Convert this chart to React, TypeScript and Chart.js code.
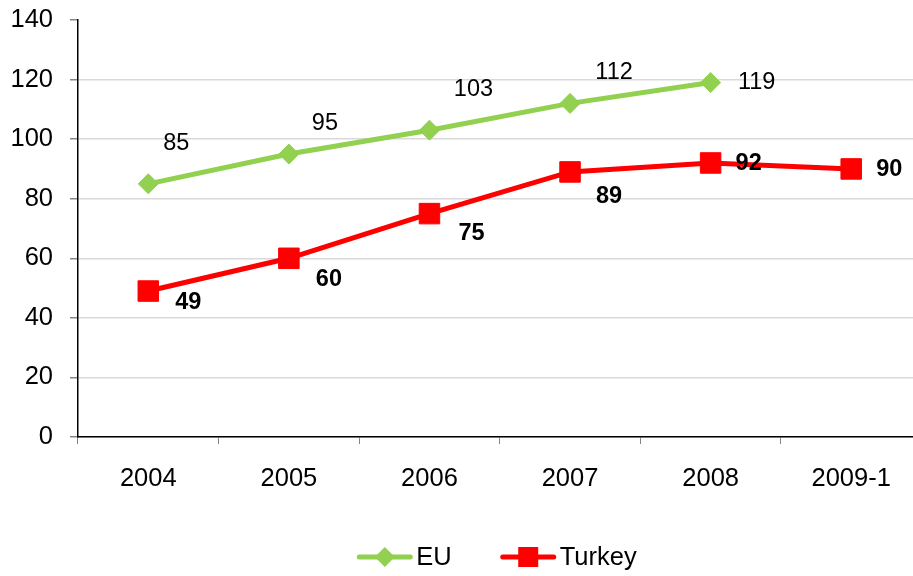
import React, { useEffect, useRef } from "react";
import { Chart, registerables } from "chart.js";

Chart.register(...registerables);

const categories = ["2004", "2005", "2006", "2007", "2008", "2009-1"];
const euValues: (number | null)[] = [85, 95, 103, 112, 119, null];
const turkeyValues: number[] = [49, 60, 75, 89, 92, 90];
const seriesNames = ["EU", "Turkey"];
const yMin = 0;
const yMax = 140;
const yStep = 20;

const FONT = "'Liberation Sans', Arial, sans-serif";
const GREEN = "#92D050";
const RED = "#FF0000";

// label placement offsets (pixels, relative to each point)
const euLabelOffsets = [
  [28, -40],
  [36, -31],
  [44, -41],
  [44, -31],
  [46, 0],
];
const turkeyLabelOffsets = [
  [40, 11],
  [40, 21],
  [42, 20],
  [39, 25],
  [38, 1],
  [38, 1],
];

const dataLabelPlugin = {
  id: "dataLabels",
  afterDatasetsDraw(chart: any) {
    const ctx = chart.ctx;
    ctx.save();
    ctx.fillStyle = "#000";
    ctx.textAlign = "center";
    ctx.textBaseline = "middle";
    chart.data.datasets.forEach((ds: any, di: number) => {
      const meta = chart.getDatasetMeta(di);
      const offsets = di === 0 ? euLabelOffsets : turkeyLabelOffsets;
      ctx.font = (di === 0 ? "normal " : "bold ") + "23.5px " + FONT;
      meta.data.forEach((pt: any, i: number) => {
        const v = ds.data[i];
        if (v === null || v === undefined) return;
        const off = offsets[i] || [0, 0];
        ctx.fillText(String(v), pt.x + off[0], pt.y + off[1]);
      });
    });
    ctx.restore();
  },
};

const legendPlugin = {
  id: "customLegend",
  afterDraw(chart: any) {
    const ctx = chart.ctx;
    const lineLen = 55;
    const textGap = 4;
    const itemGap = 49;
    const centerX = 497;
    const y = 557;
    ctx.save();
    ctx.font = "25.5px " + FONT;
    const items = chart.data.datasets.map((ds: any) => ({
      ds,
      w: lineLen + textGap + ctx.measureText(ds.label).width,
    }));
    const total =
      items.reduce((s: number, it: any) => s + it.w, 0) + itemGap * (items.length - 1);
    let x = centerX - total / 2;
    items.forEach((it: any) => {
      const ds = it.ds;
      ctx.strokeStyle = ds.borderColor;
      ctx.lineWidth = 5;
      ctx.lineCap = "round";
      ctx.beginPath();
      ctx.moveTo(x + 2, y);
      ctx.lineTo(x + lineLen - 2, y);
      ctx.stroke();
      ctx.fillStyle = ds.pointBackgroundColor;
      const cx = x + lineLen / 2;
      if (ds.pointStyle === "rectRot") {
        const r = 10;
        ctx.beginPath();
        ctx.moveTo(cx - r, y);
        ctx.lineTo(cx, y - r);
        ctx.lineTo(cx + r, y);
        ctx.lineTo(cx, y + r);
        ctx.closePath();
        ctx.fill();
      } else {
        const s = 20;
        ctx.fillRect(cx - s / 2, y - s / 2, s, s);
      }
      ctx.fillStyle = "#000";
      ctx.textAlign = "left";
      ctx.textBaseline = "middle";
      ctx.fillText(ds.label, x + lineLen + textGap, y + 1);
      x += it.w + itemGap;
    });
    ctx.restore();
  },
};

export default function App() {
  const ref = useRef<HTMLCanvasElement | null>(null);
  useEffect(() => {
    if (!ref.current) return;
    const chart = new Chart(ref.current, {
      type: "line",
      data: {
        labels: categories,
        datasets: [
          {
            label: seriesNames[0],
            data: euValues,
            borderColor: GREEN,
            backgroundColor: GREEN,
            pointBackgroundColor: GREEN,
            pointBorderColor: GREEN,
            pointBorderWidth: 1,
            pointStyle: "rectRot",
            pointRadius: 10,
            borderWidth: 5,
            tension: 0,
            spanGaps: false,
          },
          {
            label: seriesNames[1],
            data: turkeyValues,
            borderColor: RED,
            backgroundColor: RED,
            pointBackgroundColor: RED,
            pointBorderColor: RED,
            pointBorderWidth: 1,
            pointStyle: "rect",
            pointRadius: 14.5,
            borderWidth: 5,
            tension: 0,
          },
        ],
      },
      options: {
        animation: false,
        responsive: false,
        devicePixelRatio: 1,
        layout: { padding: { top: 20, right: 2, left: 0, bottom: 0 } },
        plugins: {
          legend: { display: false },
          tooltip: { enabled: false },
        },
        scales: {
          x: {
            offset: true,
            grid: {
              offset: true,
              drawOnChartArea: false,
              drawTicks: true,
              tickLength: 7,
              tickColor: "#868686",
            },
            border: { color: "#000", width: 1.5 },
            ticks: {
              color: "#000",
              font: { family: FONT, size: 25.5 },
              padding: 20,
              maxRotation: 0,
            },
            afterFit(scale: any) {
              scale.height = 139;
              scale.paddingTop = 0;
            },
          },
          y: {
            min: yMin,
            max: yMax,
            grid: {
              color: (c: any) =>
                c.tick && c.tick.value === yMax ? "rgba(0,0,0,0)" : "#d9d9d9",
              lineWidth: 1.5,
              tickLength: 8,
              tickColor: "#868686",
            },
            border: { color: "#000", width: 1.5 },
            ticks: {
              stepSize: yStep,
              color: "#000",
              font: { family: FONT, size: 25.5 },
              padding: 17,
            },
            afterFit(scale: any) {
              scale.width = 78;
              scale.paddingTop = 0;
              scale.paddingBottom = 0;
            },
          },
        },
      },
      plugins: [dataLabelPlugin, legendPlugin],
    });
    return () => chart.destroy();
  }, []);
  return (
    <div
      style={{
        position: "absolute",
        left: 0,
        top: 0,
        width: 913,
        height: 576,
        overflow: "hidden",
        background: "#fff",
      }}
    >
      <canvas ref={ref} width={937} height={576} style={{ display: "block" }} />
    </div>
  );
}
